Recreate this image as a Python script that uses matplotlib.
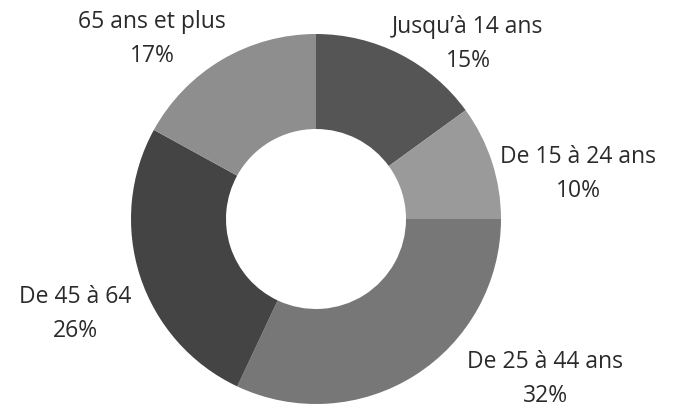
import matplotlib.pyplot as plt

labels = ["Jusqu’à 14 ans", "De 15 à 24 ans", "De 25 à 44 ans", "De 45 à 64", "65 ans et plus"]
values = [15, 10, 32, 26, 17]
colors = ["#555555", "#9a9a9a", "#777777", "#444444", "#8e8e8e"]

# label positions in pixels (x, y of first line from top)
label_pos = [(468, 27), (578, 157), (545, 362), (75, 297), (152, 22)]

plt.rcParams['font.family'] = ['Open Sans', 'DejaVu Sans']

fig = plt.figure(figsize=(6.78, 4.07), dpi=100)
ax = fig.add_axes([0, 0, 1, 1])

ax.pie(values, colors=colors, startangle=90, counterclock=False,
       center=(316, 407 - 219), radius=185, frame=True,
       wedgeprops=dict(width=95, linewidth=0))
ax.set_xlim(0, 678)
ax.set_ylim(0, 407)
ax.set_aspect('equal')
ax.axis('off')

total = sum(values)
for lab, v, (x, y) in zip(labels, values, label_pos):
    ax.text(x, 407 - y, lab, ha='center', va='center', fontsize=16.5,
            color='#2a2a2a', fontweight='medium')
    ax.text(x, 407 - y - 34, f"{round(100 * v / total)}%", ha='center', va='center',
            fontsize=16.5, color='#2a2a2a', fontweight='medium')

fig.savefig("out.png", dpi=100)
